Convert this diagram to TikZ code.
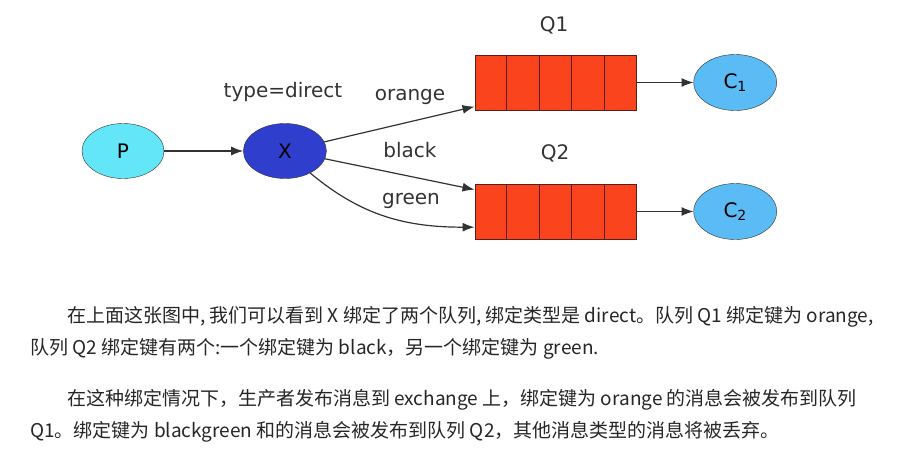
\documentclass[tikz,border=0pt]{standalone}
\usepackage{fontspec}
\setmainfont{DejaVu Sans}
\newfontfamily\cjk{Noto Sans CJK SC}
\usetikzlibrary{shapes.geometric, arrows.meta, positioning, calc}
\usepackage{xcolor}
\definecolor{pcyan}{RGB}{99, 230, 248}
\definecolor{xblue}{RGB}{47, 62, 205}
\definecolor{cblue}{RGB}{90, 187, 245}
\definecolor{qred}{RGB}{250, 68, 30}
\definecolor{qedge}{RGB}{90, 30, 20}
\definecolor{edgegray}{RGB}{50, 50, 50}
\tikzstyle{prod} = [ellipse, minimum width=82pt, minimum height=55pt, inner sep=0pt, draw=edgegray, fill=pcyan, font=\fontsize{20}{24}\selectfont]
\tikzstyle{exch} = [ellipse, minimum width=83pt, minimum height=55pt, inner sep=0pt, draw=edgegray, fill=xblue, font=\fontsize{20}{24}\selectfont]
\tikzstyle{cons} = [ellipse, minimum width=83pt, minimum height=56pt, inner sep=0pt, draw=edgegray, fill=cblue, font=\fontsize{20}{24}\selectfont]
\tikzstyle{queue} = [rectangle, minimum width=161pt, minimum height=55pt, inner sep=0pt, draw=qedge, fill=qred, line width=1pt]
\tikzstyle{lbl} = [anchor=base, inner sep=0pt, text=black!80, font=\fontsize{20}{24}\selectfont]
\tikzstyle{para} = [anchor=base west, inner sep=0pt, text=black!85, font=\cjk\fontsize{19}{23}\selectfont]
\tikzstyle{arrow} = [line width=1.2pt, draw=edgegray, -{Latex[length=12pt,width=9pt]}]

\begin{document}
\begin{tikzpicture}[x=1pt, y=-1pt]
    \useasboundingbox (0,0) rectangle (909,456);

    % Producer and exchange
    \node (p) [prod] at (123,151) {P};
    \node (x) [exch, right=79pt of p] {X};

    % Queues
    \node (q1) [queue] at (555.5,82.5) {};
    \node (q2) [queue] at (555.5,211.5) {};
    \foreach \q in {q1,q2}
        \foreach \i in {1,...,4}
            \draw [qedge, line width=1pt] ($(\q.north west)!\i/5!(\q.north east)$) -- ($(\q.south west)!\i/5!(\q.south east)$);

    % Consumers
    \node (c1) [cons, right=57pt of q1] {C\textsubscript{1}};
    \node (c2) [cons, right=57pt of q2] {C\textsubscript{2}};

    % Labels
    \node (tdir) [lbl] at (283,97) {type=direct};
    \node (lorange) [lbl] at (410,100) {orange};
    \node (lblack) [lbl] at (410,157) {black};
    \node (lgreen) [lbl] at (411,204) {green};
    \node (lq1) [lbl] at (554,31) {Q1};
    \node (lq2) [lbl] at (555,159) {Q2};

    % Arrows
    \draw [arrow] (p) -- (x);
    \draw [arrow] (x.13) -- ($(q1.south west)!0.07!(q1.north west)$);
    \draw [arrow] (x.-11) -- ($(q2.north west)!0.11!(q2.south west)$);
    \draw [arrow] (x.-41) to[out=-40,in=180] ($(q2.south west)!0.22!(q2.north west)$);
    \draw [arrow] (q1) -- (c1);
    \draw [arrow] (q2) -- (c2);

    % Explanation text
    \node (t1) [para] at (67,322) {在上面这张图中, 我们可以看到 X 绑定了两个队列, 绑定类型是 direct。队列 Q1 绑定键为 orange,};
    \node (t2) [para] at (30,354) {队列 Q2 绑定键有两个:一个绑定键为 black，另一个绑定键为 green.};
    \node (t3) [para] at (67,405) {在这种绑定情况下，生产者发布消息到 exchange 上，绑定键为 orange 的消息会被发布到队列};
    \node (t4) [para] at (30,437) {Q1。绑定键为 blackgreen 和的消息会被发布到队列 Q2，其他消息类型的消息将被丢弃。};

\end{tikzpicture}
\end{document}
